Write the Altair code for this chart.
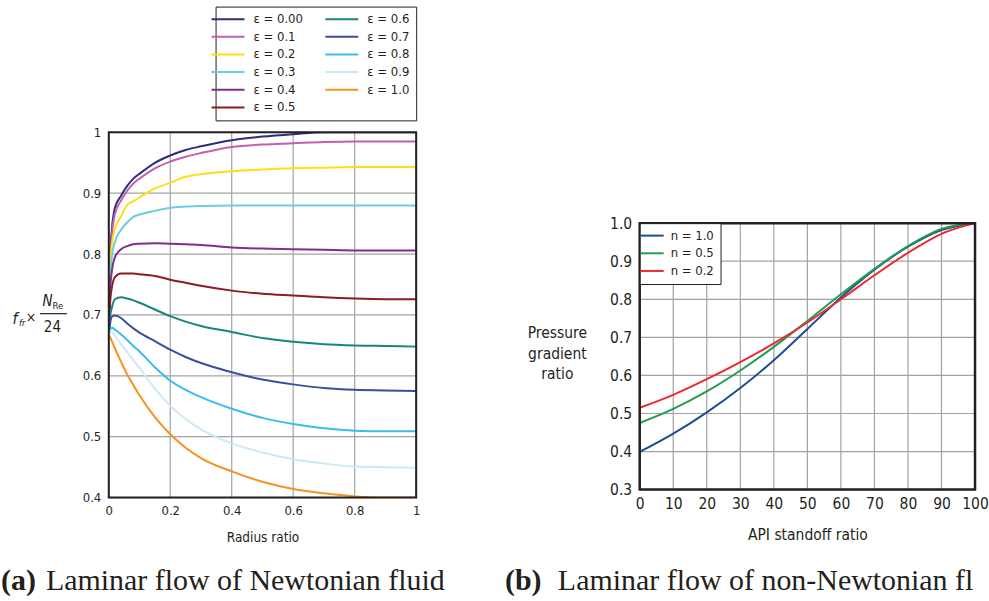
import altair as alt
import pandas as pd

FONT = "Liberation Sans Narrow, DejaVu Sans Condensed, Roboto Condensed, sans-serif"
SERIF = "Liberation Serif, DejaVu Serif, serif"
INK = "#231f20"
GRID = "#a3a3a3"

# ---------------- left panel data ----------------
radius = [0, 0.005, 0.01, 0.02, 0.04, 0.06, 0.08, 0.1, 0.15, 0.2, 0.25, 0.3,
          0.4, 0.5, 0.6, 0.7, 0.8, 0.9, 1.0]
eps_labels = ["ε = 0.00", "ε = 0.1", "ε = 0.2", "ε = 0.3", "ε = 0.4", "ε = 0.5",
              "ε = 0.6", "ε = 0.7", "ε = 0.8", "ε = 0.9", "ε = 1.0"]
eps_colors = ["#2b2f7d", "#c45fae", "#ffde17", "#6dcde0", "#7e2f8e", "#8a1c24",
              "#17877a", "#3d4ea1", "#39bdee", "#cde9f5", "#f6921e"]
e00 = [0.667, 0.80, 0.84, 0.876, 0.896, 0.912, 0.924, 0.932, 0.950, 0.962, 0.971, 0.977, 0.987, 0.993, 0.997, 1.0, 1.0, 1.0, 1.0]
e01 = [0.667, 0.79, 0.83, 0.866, 0.888, 0.904, 0.916, 0.924, 0.941, 0.952, 0.960, 0.966, 0.976, 0.980, 0.982, 0.984, 0.985, 0.985, 0.985]
e02 = [0.667, 0.78, 0.815, 0.842, 0.862, 0.881, 0.887, 0.893, 0.908, 0.917, 0.927, 0.931, 0.936, 0.939, 0.941, 0.942, 0.943, 0.943, 0.943]
e03 = [0.667, 0.765, 0.795, 0.82, 0.840, 0.852, 0.861, 0.865, 0.871, 0.876, 0.878, 0.879, 0.880, 0.880, 0.880, 0.880, 0.880, 0.880, 0.880]
e04 = [0.667, 0.745, 0.772, 0.795, 0.808, 0.813, 0.816, 0.817, 0.818, 0.817, 0.816, 0.815, 0.811, 0.809, 0.808, 0.807, 0.806, 0.806, 0.806]
e05 = [0.667, 0.725, 0.745, 0.762, 0.768, 0.768, 0.768, 0.767, 0.764, 0.758, 0.753, 0.748, 0.740, 0.735, 0.732, 0.729, 0.727, 0.726, 0.726]
e06 = [0.667, 0.700, 0.712, 0.726, 0.729, 0.727, 0.724, 0.720, 0.709, 0.698, 0.689, 0.682, 0.672, 0.662, 0.656, 0.652, 0.650, 0.649, 0.648]
e07 = [0.667, 0.688, 0.697, 0.699, 0.695, 0.686, 0.678, 0.671, 0.657, 0.643, 0.631, 0.621, 0.606, 0.594, 0.586, 0.580, 0.577, 0.576, 0.575]
e08 = [0.667, 0.676, 0.679, 0.676, 0.668, 0.659, 0.649, 0.640, 0.614, 0.592, 0.577, 0.565, 0.546, 0.531, 0.521, 0.514, 0.510, 0.509, 0.509]
e09 = [0.667, 0.673, 0.672, 0.666, 0.652, 0.639, 0.626, 0.613, 0.579, 0.551, 0.529, 0.512, 0.489, 0.474, 0.463, 0.456, 0.451, 0.450, 0.449]
e10 = [0.667, 0.663, 0.657, 0.645, 0.623, 0.602, 0.585, 0.568, 0.532, 0.504, 0.482, 0.465, 0.443, 0.426, 0.414, 0.407, 0.402, 0.400, 0.400]
eps_series = [e00, e01, e02, e03, e04, e05, e06, e07, e08, e09, e10]

left_x_ticks = [0, 0.2, 0.4, 0.6, 0.8, 1.0]
left_y_ticks = [0.4, 0.5, 0.6, 0.7, 0.8, 0.9, 1.0]
left_x_grid = [0.2, 0.4, 0.6, 0.8]
left_y_grid = [0.5, 0.6, 0.7, 0.8, 0.9]

# ---------------- right panel data ----------------
standoff = [0, 10, 20, 30, 40, 50, 60, 70, 80, 90, 100]
n_labels = ["n = 1.0", "n = 0.5", "n = 0.2"]
n_colors = ["#1d4e8f", "#1f9d55", "#ec2a32"]
n10 = [0.399, 0.447, 0.503, 0.567, 0.640, 0.722, 0.805, 0.878, 0.938, 0.982, 1.0]
n05 = [0.475, 0.512, 0.558, 0.613, 0.675, 0.743, 0.813, 0.880, 0.940, 0.985, 1.0]
n02 = [0.515, 0.549, 0.590, 0.635, 0.684, 0.739, 0.800, 0.863, 0.922, 0.972, 1.0]
n_series = [n10, n05, n02]

right_x_ticks = [0, 10, 20, 30, 40, 50, 60, 70, 80, 90, 100]
right_y_ticks = [0.3, 0.4, 0.5, 0.6, 0.7, 0.8, 0.9, 1.0]
right_x_grid = [10, 20, 30, 40, 50, 60, 70, 80, 90]
right_y_grid = [0.4, 0.5, 0.6, 0.7, 0.8, 0.9]

# ---------------- tables ----------------
left_rows = []
for i, (lab, ser) in enumerate(zip(eps_labels, eps_series)):
    for r, v in zip(radius, ser):
        left_rows.append({"r": r, "f": v, "eps": lab, "k": i})
left_df = pd.DataFrame(left_rows)

right_rows = []
for i, (lab, ser) in enumerate(zip(n_labels, n_series)):
    for s, v in zip(standoff, ser):
        right_rows.append({"s": s, "p": v, "n": lab, "k": i})
right_df = pd.DataFrame(right_rows)

one = pd.DataFrame({"k": [0]})

LW, LH = 308, 366
RW, RH = 336, 267

xs_l = alt.Scale(domain=[0, 1], nice=False, zero=False)
ys_l = alt.Scale(domain=[0.4, 1.0], nice=False, zero=False)
xs_r = alt.Scale(domain=[0, 100], nice=False, zero=False)
ys_r = alt.Scale(domain=[0.3, 1.0], nice=False, zero=False)

left_x_axis = alt.Axis(
    values=left_x_ticks, grid=False, ticks=False, domain=False,
    labelExpr="datum.value == 0 ? '0' : (datum.value == 1 ? '1' : format(datum.value, '.1f'))",
    labelFont=FONT, labelFontSize=13, labelColor=INK, labelPadding=7,
    labelFlush=False, labelOverlap=False,
    title="Radius ratio", titleFont=FONT, titleFontSize=13.5, titleFontWeight="normal",
    titleColor=INK, titlePadding=13)
left_y_axis = alt.Axis(
    values=left_y_ticks, grid=False, ticks=False, domain=False,
    labelExpr="datum.value == 1 ? '1' : format(datum.value, '.1f')",
    labelFont=FONT, labelFontSize=13, labelColor=INK, labelPadding=8,
    labelFlush=False, labelOverlap=False, title=None)
right_x_axis = alt.Axis(
    values=right_x_ticks, grid=False, ticks=False, domain=False, format="d",
    labelFont=FONT, labelFontSize=15.5, labelColor=INK, labelPadding=7,
    labelFlush=False, labelOverlap=False,
    title="API standoff ratio", titleFont=FONT, titleFontSize=15.5, titleFontWeight="normal",
    titleColor=INK, titlePadding=15)
right_y_axis = alt.Axis(
    values=right_y_ticks, grid=False, ticks=False, domain=False, format=".1f",
    labelFont=FONT, labelFontSize=15.5, labelColor=INK, labelPadding=8,
    labelFlush=False, labelOverlap=False,
    title=["Pressure", "gradient", "ratio"], titleFont=FONT, titleFontSize=15.5,
    titleFontWeight="normal", titleColor=INK, titleAngle=0, titleAlign="center",
    titleBaseline="middle", titleX=-83, titleY=110, titleLineHeight=20.5)


def txt(text, x, y, size, font=FONT, align="left", baseline="alphabetic", **kw):
    return alt.Chart(one).mark_text(
        text=text, font=font, fontSize=size, align=align, baseline=baseline,
        color=INK, **kw
    ).encode(x=alt.value(x), y=alt.value(y))


def frame(w, h, sw):
    return alt.Chart(one).mark_rect(filled=False, stroke=INK, strokeWidth=sw).encode(
        x=alt.value(0), x2=alt.value(w), y=alt.value(0), y2=alt.value(h))


# ---------------- left panel ----------------
lgx = alt.Chart(pd.DataFrame({"v": left_x_grid})).mark_rule(color=GRID, strokeWidth=1.2).encode(
    x=alt.X("v:Q", scale=xs_l, axis=left_x_axis))
lgy = alt.Chart(pd.DataFrame({"v": left_y_grid})).mark_rule(color=GRID, strokeWidth=1.2).encode(
    y=alt.Y("v:Q", scale=ys_l, axis=left_y_axis))

left_lines = alt.Chart(left_df).mark_line(strokeWidth=2, interpolate="monotone", clip=True).encode(
    x=alt.X("r:Q", scale=xs_l, axis=left_x_axis),
    y=alt.Y("f:Q", scale=ys_l, axis=left_y_axis),
    color=alt.Color("eps:N", scale=alt.Scale(domain=eps_labels, range=eps_colors), legend=alt.Legend(
        title=None, orient="none", legendX=107, legendY=-126, columns=2,
        symbolType="M-3,0H3", symbolSize=121, symbolStrokeWidth=2,
        labelFont=FONT, labelFontSize=13, labelColor=INK, labelOffset=19,
        padding=6, rowPadding=3.7, columnPadding=18,
        strokeColor=INK, fillColor="white")),
    order=alt.Order("k:Q"),
)

left_title = [
    txt("f", -96.5, 192, 16, fontStyle="italic"),
    txt("fr", -90, 194.5, 9.5, fontStyle="italic"),
    txt("×", -78, 186, 14, align="center", baseline="middle"),
    txt("N", -66.5, 174, 15, fontStyle="italic"),
    txt("Re", -56.5, 177, 9.5),
    alt.Chart(one).mark_rule(color=INK, strokeWidth=1.2).encode(
        x=alt.value(-69), x2=alt.value(-42), y=alt.value(181.7)),
    txt("24", -56.5, 199.7, 15, align="center"),
]
left_caption = [
    txt("(a)", -108, 459, 30, font=SERIF, fontWeight="bold"),
    txt("Laminar flow of Newtonian fluid", -63, 459, 30, font=SERIF),
]

left = alt.layer(lgx, lgy, left_lines, frame(LW, LH, 2), *left_title, *left_caption).properties(
    width=LW, height=LH)

# ---------------- right panel ----------------
rgx = alt.Chart(pd.DataFrame({"v": right_x_grid})).mark_rule(color=GRID, strokeWidth=1.2).encode(
    x=alt.X("v:Q", scale=xs_r, axis=right_x_axis))
rgy = alt.Chart(pd.DataFrame({"v": right_y_grid})).mark_rule(color=GRID, strokeWidth=1.2).encode(
    y=alt.Y("v:Q", scale=ys_r, axis=right_y_axis))

right_lines = alt.Chart(right_df).mark_line(strokeWidth=2, interpolate="monotone", clip=True).encode(
    x=alt.X("s:Q", scale=xs_r, axis=right_x_axis),
    y=alt.Y("p:Q", scale=ys_r, axis=right_y_axis),
    color=alt.Color("n:N", scale=alt.Scale(domain=n_labels, range=n_colors), legend=alt.Legend(
        title=None, orient="none", legendX=0, legendY=91,
        symbolType="M-2.1,0H2.1", symbolSize=121, symbolStrokeWidth=2,
        labelFont=FONT, labelFontSize=13, labelColor=INK, labelOffset=12,
        padding=6, rowPadding=3.7, strokeColor=INK, fillColor="white")),
    order=alt.Order("k:Q"),
)

right_caption = [
    txt("(b)", -135, 368, 30, font=SERIF, fontWeight="bold"),
    txt("Laminar flow of non-Newtonian fluid", -82, 368, 30, font=SERIF, limit=431, ellipsis=" "),
]

right = alt.layer(rgx, rgy, right_lines, frame(RW, RH, 2.5), *right_caption).properties(
    width=RW, height=RH)

spacer = alt.Chart(one).mark_point(opacity=0).encode(
    x=alt.value(0), y=alt.value(0)).properties(
    width=RW, height=91, view=alt.ViewBackground(stroke="transparent", strokeOpacity=0))

right_col = alt.vconcat(spacer, right, spacing=0, bounds="flush")

chart = alt.hconcat(left, right_col, spacing=224, bounds="flush").resolve_scale(
    color="independent").resolve_legend(color="independent").properties(
    padding={"left": 0, "top": 5, "right": 0, "bottom": 0}
).configure_view(stroke="transparent", strokeWidth=0).configure(background="white")

chart.save("out.html", embed_options={"renderer": "svg", "actions": False})
